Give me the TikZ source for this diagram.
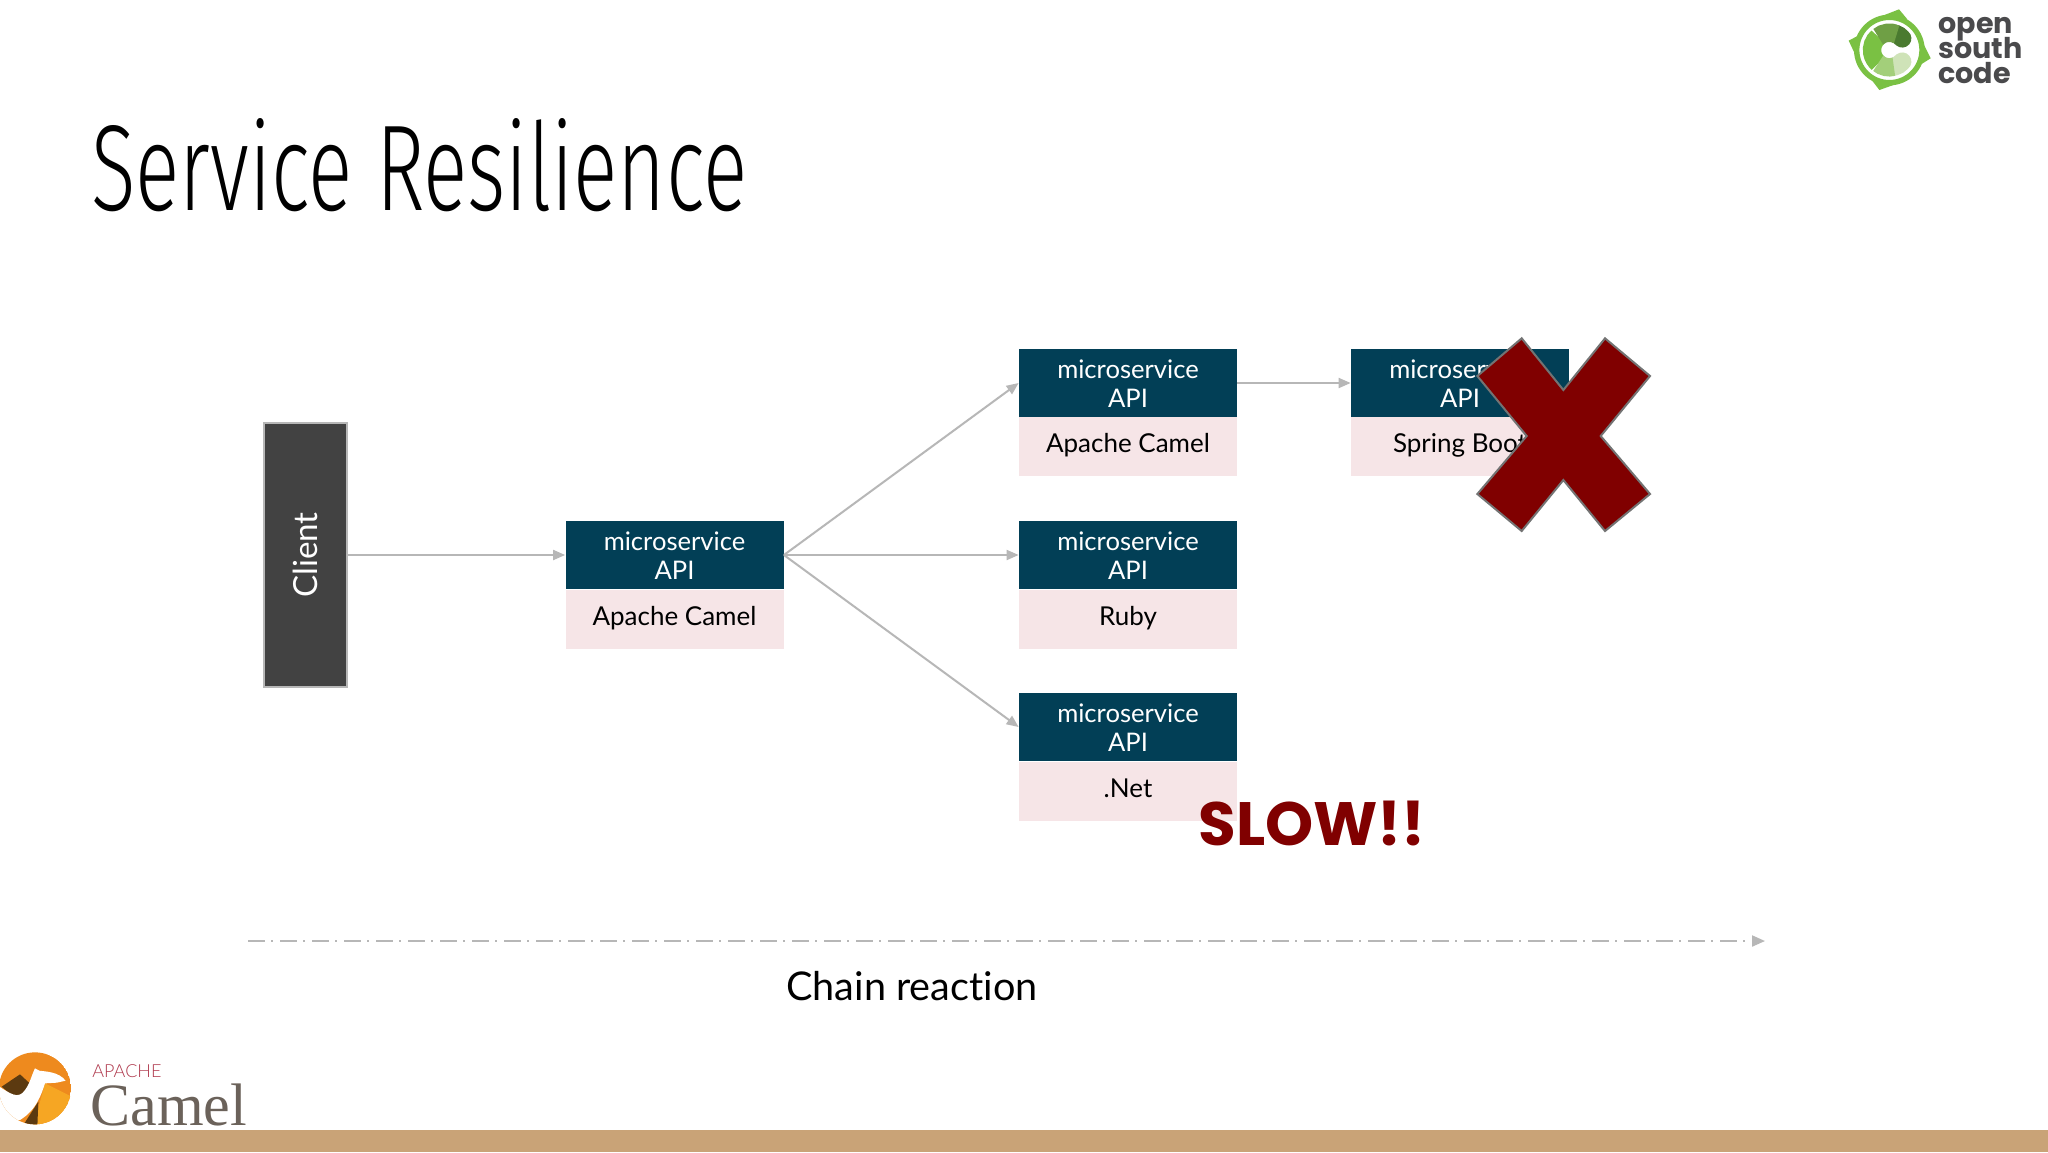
\documentclass[tikz,border=0pt]{standalone}
\usepackage{fontspec}
\usepackage{graphicx}
\setmainfont[Ligatures=NoCommon]{Lato}
\newfontfamily\lightfont[Ligatures=NoCommon]{Lato Light}
\newfontfamily\titlefont{Fira Sans Light}
\newfontfamily\popb{Poppins Bold}
\newfontfamily\serifc{Liberation Serif}
\usetikzlibrary{arrows.meta,shapes.geometric}
\definecolor{hdr}{HTML}{023F56}
\definecolor{bdy}{HTML}{F6E5E7}
\definecolor{cnx}{HTML}{B7B7B7}
\definecolor{maroon}{HTML}{800000}
\definecolor{band}{HTML}{C9A377}
\definecolor{gr1}{HTML}{7AC143}
\definecolor{gr2}{HTML}{6F9F45}
\definecolor{gr3}{HTML}{4A7A30}
\definecolor{gr4}{HTML}{A3CF7A}
\definecolor{gr5}{HTML}{CFE3B8}
\definecolor{slate}{HTML}{4A4A4C}
\definecolor{camo}{HTML}{EE8A1E}
\definecolor{caml}{HTML}{F6A623}
\definecolor{camd}{HTML}{5C3A10}
\definecolor{camt}{HTML}{6B625A}
\definecolor{apch}{HTML}{B03A4E}
\tikzset{
 hdrbox/.style={fill=hdr,text=white,minimum width=109pt,minimum height=34pt,inner sep=0pt,align=center,font=\fontsize{12.8}{14.7}\selectfont},
 bdybox/.style={fill=bdy,text=black,minimum width=109pt,minimum height=29.5pt,inner sep=0pt,text height=9.3pt,text depth=3pt,font=\fontsize{13}{14}\selectfont},
 cnxline/.style={draw=cnx,line width=1pt,-{Triangle[length=6pt,width=5pt]}},
 logotxt/.style={anchor=base west,inner sep=0pt,text=slate,font=\popb\fontsize{14.3}{16}\selectfont},
}
\begin{document}
\begin{tikzpicture}[x=0.5pt,y=-0.5pt]
\useasboundingbox (0,0) rectangle (2048,1152);
\fill[white] (0,0) rectangle (2048,1152);
\fill[band] (0,1130) rectangle (2048,1152);
% title
\node[anchor=west,inner sep=0pt] (title) at (91,165) {\resizebox{328pt}{46pt}{\titlefont\fontsize{50}{50}\selectfont Service Resilience}};
% client
\node[draw=cnx,line width=1pt,fill=black!74,text=white,minimum width=41.5pt,minimum height=132pt,inner sep=0pt] (client) at (305.5,555) {\rotatebox{90}{\fontsize{16.6}{18}\selectfont Client}};
% services
\node[hdrbox,text depth=0pt] (h1) at (674.5,555) {\raisebox{-0.5pt}{microservice}\\\raisebox{-0.5pt}{API}};
\node[bdybox] (b1) at (674.5,619) {Apache Camel};
\node[hdrbox,text depth=0pt] (h2) at (1128,383) {\raisebox{-0.5pt}{microservice}\\\raisebox{-0.5pt}{API}};
\node[bdybox] (b2) at (1128,446.5) {Apache Camel};
\node[hdrbox,text depth=0pt] (h3) at (1128,555) {\raisebox{-0.5pt}{microservice}\\\raisebox{-0.5pt}{API}};
\node[bdybox] (b3) at (1128,619) {Ruby};
\node[hdrbox,text depth=0pt] (h4) at (1128,727) {\raisebox{-0.5pt}{microservice}\\\raisebox{-0.5pt}{API}};
\node[bdybox] (b4) at (1128,791) {.Net};
\node[hdrbox,text depth=0pt] (h5) at (1460,383) {\raisebox{-0.5pt}{microservice}\\\raisebox{-0.5pt}{API}};
\node[bdybox] (b5) at (1460,446.5) {Spring Boot};
% connectors
\draw[cnxline] (client.east) -- (h1.west);
\draw[cnxline] (h1.east) -- (h2.west);
\draw[cnxline] (h1.east) -- (h3.west);
\draw[cnxline] (h1.east) -- (h4.west);
\draw[cnxline] (h2.east) -- (h5.west);
% cross
\begin{scope}[shift={(1330,320)},x=0.16667pt,y=-0.16667pt]
\filldraw[fill=maroon,draw=black!55,line width=1pt] (575,55)--(700,210)--(825,55)--(960,168)--(812,348)--(960,522)--(825,633)--(700,480)--(575,633)--(442,522)--(590,348)--(442,168)--cycle;
\end{scope}
\node[text=maroon,inner sep=0pt,font=\popb\fontsize{30.6}{32}\selectfont] (slow) at (1312,823) {SLOW!!};
% chain
\coordinate (cs) at (248,941);
\coordinate (ce) at (1765,941);
\draw[draw=cnx,line width=1pt,dash pattern=on 8.5pt off 3pt on 1pt off 3.5pt,-{Triangle[length=6.5pt,width=5.5pt]}] (cs) -- (ce);
\node[inner sep=0pt,font=\fontsize{19.8}{22}\selectfont] (chain) at (912,986) {Chain reaction};
% open south code logo
\begin{scope}[shift={(1820,0)},x=0.16667pt,y=-0.16667pt]
\fill[gr1] (237,28)--(262,58)--(208,50)--(150,62)--cycle;
\fill[gr1] (332,175)--(300,195)--(305,130)--(292,95)--cycle;
\fill[gr1] (178,270)--(155,240)--(210,250)--(268,238)--cycle;
\fill[gr1] (86,122)--(118,105)--(110,170)--(125,205)--cycle;
\draw[gr1,line width=2.7pt] (208,150) circle (98);
\draw[gr1,line width=27.5pt/3] (208,150) ++(230:52) arc (230:130:52);
\draw[gr5,line width=27.5pt/3,line cap=round] (208,150) ++(42:52) arc (42:75:52);
\draw[gr4,line width=27.5pt/3] (208,150) ++(75:52) arc (75:130:52);
\draw[gr3,line width=27.5pt/3,line cap=round] (208,150) ++(-42:52) arc (-42:-70:52);
\draw[gr2,line width=27.5pt/3] (208,150) ++(-65:52) arc (-65:-130:52);
\end{scope}
\node[logotxt] (l1) at (1938,33) {open};
\node[logotxt] (l2) at (1938,58) {south};
\node[logotxt] (l3) at (1938,83) {code};
% camel logo
\begin{scope}[shift={(0,1030)},x=0.16667pt,y=-0.16667pt]
\begin{scope}
\clip (105,175) circle (108);
\fill[camo] (105,175) circle (108);
\fill[caml] (135,160)--(215,200)--(215,290)--(100,290)--cycle;
\fill[camd] (5,170)--(60,133)--(100,170)--(75,205)--(35,195)--cycle;
\fill[camd] (115,215)--(112,290)--(70,285)--cycle;
\fill[white] (-5,168)..controls (30,190) and (55,210)..(75,180)..controls (90,160) and (95,135)..(105,115)--(118,122)..controls (140,125) and (175,125)..(197,152)--(170,158)--(135,160)..controls (125,190) and (110,240)..(60,270)..controls (35,270) and (10,250)..(-5,230)--cycle;
\end{scope}
\end{scope}
\node[anchor=base west,inner sep=0pt,text=apch,font=\lightfont\fontsize{9}{10}\selectfont] (ap) at (92,1077) {APACHE};
\node[anchor=base west,inner sep=0pt,text=camt,font=\serifc\fontsize{30}{30}\selectfont] (cam) at (90,1125) {Camel};
\end{tikzpicture}
\end{document}
